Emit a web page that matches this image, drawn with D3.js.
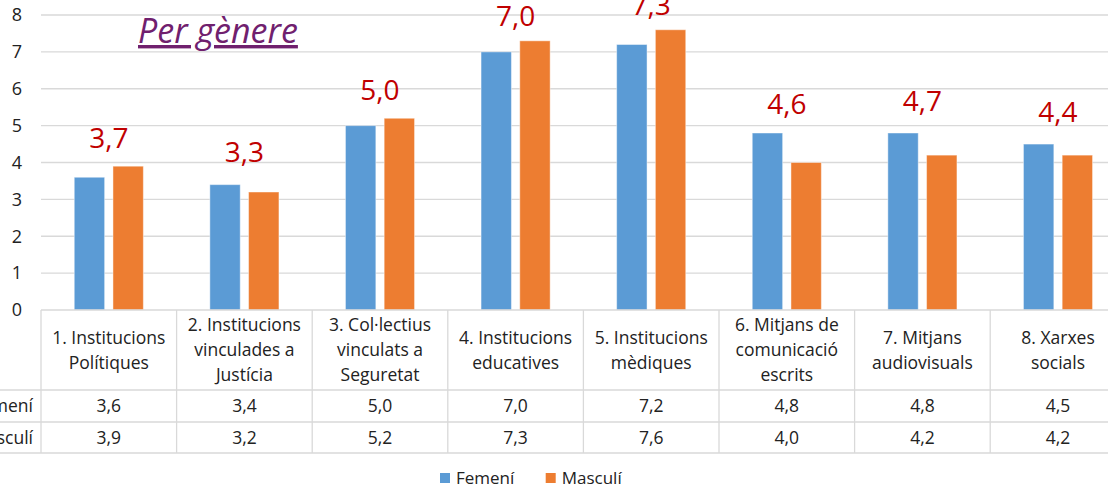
<!DOCTYPE html>
<html><head><meta charset="utf-8">
<script src="https://cdn.jsdelivr.net/npm/d3@7"></script>
<style>
html,body{margin:0;padding:0;background:#fff;}
svg{display:block;font-family:"Open Sans",sans-serif;}
</style></head>
<body>
<svg id="chart" width="1108" height="490"></svg>
<script>
const categories = [
  "1. Institucions\nPolítiques",
  "2. Institucions\nvinculades a\nJustícia",
  "3. Col·lectius\nvinculats a\nSeguretat",
  "4. Institucions\neducatives",
  "5. Institucions\nmèdiques",
  "6. Mitjans de\ncomunicació\nescrits",
  "7. Mitjans\naudiovisuals",
  "8. Xarxes\nsocials"
];
const series = ["Femení", "Masculí"];
const femeni = [3.6, 3.4, 5.0, 7.0, 7.2, 4.8, 4.8, 4.5];
const masculi = [3.9, 3.2, 5.2, 7.3, 7.6, 4.0, 4.2, 4.2];
const averages = [3.7, 3.3, 5.0, 7.0, 7.3, 4.6, 4.7, 4.4];
const yTicks = [0, 1, 2, 3, 4, 5, 6, 7, 8];
const title = "Per gènere";

const colors = {"Femení": "#5B9BD5", "Masculí": "#ED7D31"};
const fmt = v => d3.format(".1f")(v).replace(".", ",");

const svg = d3.select("#chart");
const left = 41, step = 135.6;
const x0 = d3.scaleBand().domain(categories).range([left, left + step * categories.length]).padding(0);
const groupW = 69.1;
const x1 = d3.scaleBand().domain(series).range([0, groupW]).paddingInner(0.215);
const y = d3.scaleLinear().domain([0, 8]).range([310, 15]);

// gridlines
svg.append("g").selectAll("line").data(yTicks.filter(t => t > 0)).join("line")
  .attr("x1", left).attr("x2", 1108)
  .attr("y1", d => y(d)).attr("y2", d => y(d))
  .attr("stroke", "#d9d9d9").attr("stroke-width", 1.3);

// y axis labels
const yAxis = d3.axisLeft(y).tickValues(yTicks).tickSize(0).tickPadding(0).tickFormat(d3.format("d"));
const ya = svg.append("g").attr("transform", "translate(22,0)").call(yAxis);
ya.select(".domain").remove();
ya.selectAll("text").attr("font-size", 18).attr("fill", "#222").attr("font-family", "Open Sans");

// bars
const data = categories.map((c, i) => ({c, vals: [{s: "Femení", v: femeni[i]}, {s: "Masculí", v: masculi[i]}]}));
const g = svg.append("g").selectAll("g").data(data).join("g")
  .attr("transform", d => `translate(${x0(d.c) + (x0.bandwidth() - groupW) / 2},0)`);
g.selectAll("rect").data(d => d.vals).join("rect")
  .attr("x", d => x1(d.s)).attr("width", x1.bandwidth())
  .attr("y", d => y(d.v)).attr("height", d => y(0) - y(d.v))
  .attr("fill", d => colors[d.s])
  .attr("stroke", "#fff").attr("stroke-opacity", 0.45).attr("stroke-width", 1);

// red average labels
svg.append("g").selectAll("text").data(categories).join("text")
  .attr("x", d => x0(d) + x0.bandwidth() / 2)
  .attr("y", (d, i) => y(averages[i]) - 26)
  .attr("text-anchor", "middle")
  .attr("font-size", 28).attr("fill", "#C00000")
  .text((d, i) => fmt(averages[i]));

// title
svg.append("text").attr("x", 138).attr("y", 43)
  .attr("font-size", 34).attr("font-style", "italic")
  .attr("fill", "#70206E").attr("text-decoration", "underline")
  .text(title);

// data table
const tTop = 310, hBot = 390, r1 = 422, r2 = 453, right = left + step * categories.length;
const tg = svg.append("g");
const lineC = "#d9d9d9";
tg.append("line").attr("x1", left).attr("x2", right).attr("y1", tTop).attr("y2", tTop).attr("stroke", lineC).attr("stroke-width", 1.3);
[hBot, r1, r2].forEach(yy => tg.append("line").attr("x1", 0).attr("x2", right).attr("y1", yy).attr("y2", yy).attr("stroke", lineC).attr("stroke-width", 1.3));
const bounds = categories.map(c => x0(c)).concat([right]);
tg.selectAll("line.v").data(bounds).join("line").attr("class", "v")
  .attr("x1", d => d).attr("x2", d => d).attr("y1", tTop).attr("y2", r2)
  .attr("stroke", lineC).attr("stroke-width", 1.3);

// header text
const lh = 25;
categories.forEach(c => {
  const lines = c.split("\n");
  const cx = x0(c) + x0.bandwidth() / 2;
  const cy = (tTop + hBot) / 2;
  const t = tg.append("text").attr("text-anchor", "middle").attr("font-size", 17.5).attr("fill", "#222");
  lines.forEach((ln, k) => {
    t.append("tspan").attr("x", cx)
      .attr("y", cy + (k - (lines.length - 1) / 2) * lh)
      .attr("dy", "0.35em").text(ln);
  });
});
// value rows
const rows = [{name: "Femení", vals: femeni, y0: hBot, y1: r1}, {name: "Masculí", vals: masculi, y0: r1, y1: r2}];
rows.forEach(r => {
  const cy = (r.y0 + r.y1) / 2;
  tg.append("text").attr("x", 33).attr("y", cy).attr("dy", "0.35em")
    .attr("text-anchor", "end").attr("font-size", 17.5).attr("fill", "#222").text(r.name);
  categories.forEach((c, i) => {
    tg.append("text").attr("x", x0(c) + x0.bandwidth() / 2).attr("y", cy).attr("dy", "0.35em")
      .attr("text-anchor", "middle").attr("font-size", 17.5).attr("fill", "#222").text(fmt(r.vals[i]));
  });
});

// legend
const legendX = [440, 545.7];
const lg = svg.append("g");
series.forEach((s, i) => {
  lg.append("rect").attr("x", legendX[i]).attr("y", 473).attr("width", 10).attr("height", 10).attr("fill", colors[s]);
  lg.append("text").attr("x", legendX[i] + 16).attr("y", 478).attr("dy", "0.35em")
    .attr("font-size", 17).attr("fill", "#222").text(s);
});
</script>
</body></html>
